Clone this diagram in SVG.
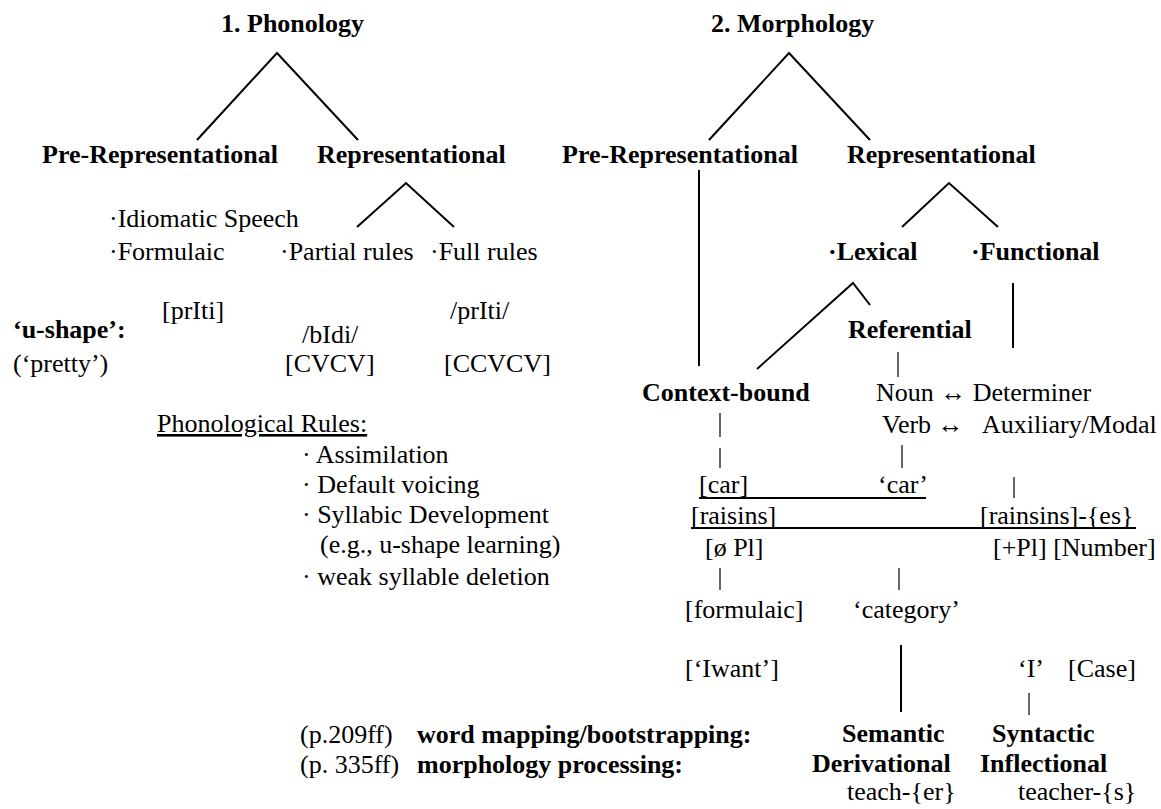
<svg xmlns="http://www.w3.org/2000/svg" width="1161" height="809" viewBox="0 0 1161 809">
<style>
text{font-family:"Liberation Serif","Times New Roman",serif;font-size:26px;fill:#000}
.b{font-weight:bold}
.ln{stroke:#000;stroke-width:2;fill:none}
.tk{stroke:#000;stroke-width:1.2;fill:none}
.ul{text-decoration:underline}
</style>
<rect width="1161" height="809" fill="#fff"/>
<g id="connectors">
<polyline class="ln" points="197,140 277,53 358,140"/>
<polyline class="ln" points="357,227 406,183 454,227"/>
<polyline class="ln" points="709,140 789,53 870,140"/>
<line class="ln" x1="699" y1="170" x2="699" y2="366"/>
<polyline class="ln" points="902,227 949,183 998,227"/>
<line class="ln" x1="1013" y1="283" x2="1013" y2="348"/>
<polyline class="ln" points="757,369 853,283 870,305"/>
<line class="tk" x1="898" y1="352" x2="898" y2="377"/>
<line class="tk" x1="720" y1="413" x2="720" y2="437"/>
<line class="tk" x1="720" y1="448" x2="720" y2="468"/>
<line class="tk" x1="902" y1="445" x2="902" y2="468"/>
<line class="tk" x1="1014" y1="477" x2="1014" y2="498"/>
<line class="ln" x1="699" y1="498" x2="926" y2="498"/>
<line class="ln" x1="691" y1="528" x2="1136" y2="528"/>
<line class="tk" x1="720" y1="568" x2="720" y2="590"/>
<line class="tk" x1="899" y1="568" x2="899" y2="590"/>
<line class="ln" x1="901" y1="645" x2="901" y2="712"/>
<line class="tk" x1="1029" y1="693" x2="1029" y2="715"/>
</g>
<g id="phonology"><text class="b" x="221" y="32">1. Phonology</text></g>
<g id="ph-prerep"><text class="b" x="42" y="163">Pre-Representational</text></g>
<g id="ph-rep"><text class="b" x="317" y="163">Representational</text></g>
<g id="ph-prerep-items"><text x="109" y="227">·Idiomatic Speech</text><text x="109" y="260">·Formulaic</text></g>
<g id="ph-partial"><text x="280" y="260">·Partial rules</text></g>
<g id="ph-full"><text x="430" y="260">·Full rules</text></g>
<g id="ushape"><text class="b" x="13" y="338">‘u-shape’:</text><text x="13" y="372">(‘pretty’)</text></g>
<g id="ex-priti1"><text x="162" y="319">[prIti]</text></g>
<g id="ex-bidi"><text x="302" y="343">/bIdi/</text><text x="285" y="372">[CVCV]</text></g>
<g id="ex-priti2"><text x="450" y="319">/prIti/</text><text x="444" y="372">[CCVCV]</text></g>
<g id="phon-rules">
<text class="ul" x="157" y="432">Phonological Rules:</text>
<text x="302" y="463">· Assimilation</text>
<text x="302" y="493">· Default voicing</text>
<text x="302" y="523">· Syllabic Development</text>
<text x="320" y="553">(e.g., u-shape learning)</text>
<text x="302" y="585">· weak syllable deletion</text>
</g>
<g id="morphology"><text class="b" x="711" y="32">2. Morphology</text></g>
<g id="mo-prerep"><text class="b" x="562" y="163">Pre-Representational</text></g>
<g id="mo-rep"><text class="b" x="847" y="163">Representational</text></g>
<g id="lexical"><text class="b" x="828" y="260">·Lexical</text></g>
<g id="functional"><text class="b" x="971" y="260">·Functional</text></g>
<g id="referential"><text class="b" x="848" y="338">Referential</text></g>
<g id="context-bound"><text class="b" x="642" y="401">Context-bound</text></g>
<g id="noun-verb">
<text x="876" y="401">Noun ↔ Determiner</text>
<text x="882" y="433">Verb ↔</text>
<text x="982" y="433">Auxiliary/Modal</text>
</g>
<g id="car"><text x="699" y="493">[car]</text><text x="878" y="493">‘car’</text></g>
<g id="raisins"><text x="691" y="524">[raisins]</text><text x="980" y="524">[rainsins]-{es}</text></g>
<g id="plural"><text x="705" y="556">[ø Pl]</text><text x="993" y="556">[+Pl] [Number]</text></g>
<g id="formulaic"><text x="685" y="618">[formulaic]</text><text x="685" y="677">[‘Iwant’]</text></g>
<g id="category"><text x="853" y="618">‘category’</text></g>
<g id="case"><text x="1018" y="677">‘I’</text><text x="1068" y="677">[Case]</text></g>
<g id="footnotes">
<text x="300" y="743">(p.209ff)</text>
<text class="b" x="417" y="743">word mapping/bootstrapping:</text>
<text x="300" y="773">(p. 335ff)</text>
<text class="b" x="417" y="773">morphology processing:</text>
</g>
<g id="semantic"><text class="b" x="842" y="742">Semantic</text><text class="b" x="812" y="772">Derivational</text><text x="847" y="800">teach-{er}</text></g>
<g id="syntactic"><text class="b" x="992" y="742">Syntactic</text><text class="b" x="980" y="772">Inflectional</text><text x="1018" y="800">teacher-{s}</text></g>
</svg>
